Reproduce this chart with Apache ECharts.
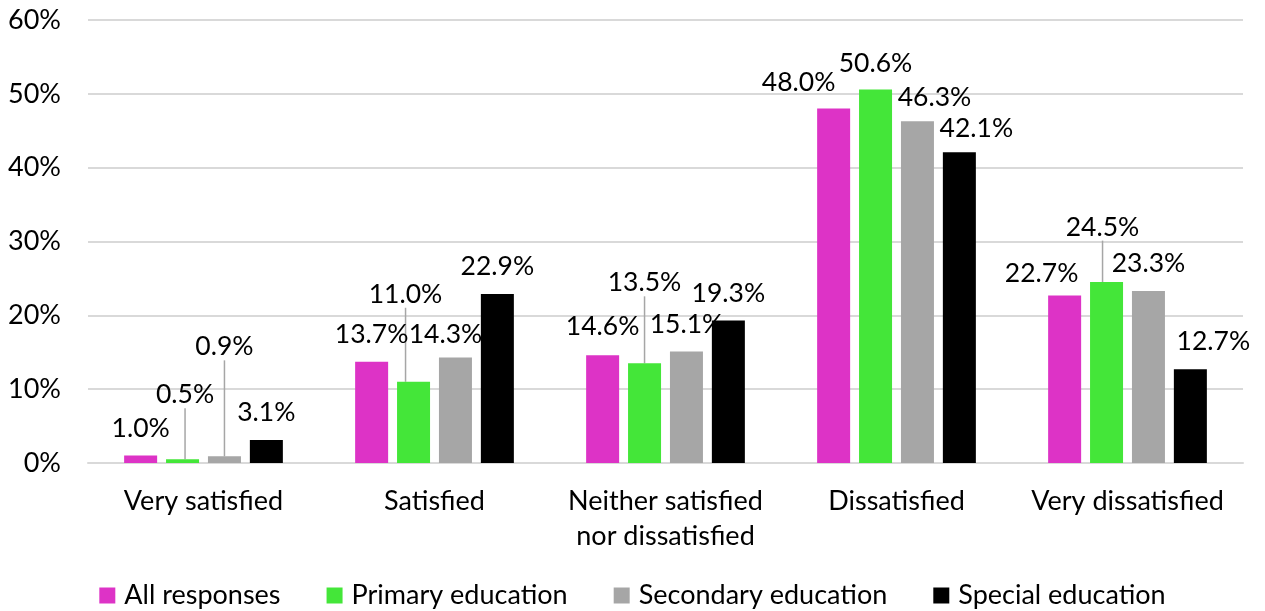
<!DOCTYPE html>
<html><head><meta charset="utf-8">
<script src="https://cdn.jsdelivr.net/npm/echarts@6/dist/echarts.min.js"></script>
<style>html,body{margin:0;padding:0;background:#fff}#c{width:1265px;height:611px}</style>
</head><body><div id="c"></div>
<script>
const categories = ['Very satisfied', 'Satisfied', 'Neither satisfied\nnor dissatisfied', 'Dissatisfied', 'Very dissatisfied'];
const seriesNames = ['All responses', 'Primary education', 'Secondary education', 'Special education'];
const allResponses = [1.0, 13.7, 14.6, 48.0, 22.7];
const primaryEducation = [0.5, 11.0, 13.5, 50.6, 24.5];
const secondaryEducation = [0.9, 14.3, 15.1, 46.3, 23.3];
const specialEducation = [3.1, 22.9, 19.3, 42.1, 12.7];
const yMin = 0, yMax = 60, yStep = 10;
const colors = ['#DD33C6', '#44E639', '#A6A6A6', '#000000'];
// manual label nudges per series/category: [dx, dy, showLeaderLine]
const labelNudges = [
  [[0, 0], [0, 0], [0, -1], [-35, 1], [-23, 6]],
  [[2.5, -37, 1], [-8, -60, 1], [0, -53, 1], [0, 2], [-4, -27.5, 1]],
  [[0, -82, 1], [-10, 5], [0, 0], [17, 3.5], [0, 0]],
  [[0, 0], [0, 0], [0, 0], [17, 4], [23, 0]]
];
const FONT = 'Lato';
const FS = 27;
const LFS = 26.5;
const values = [allResponses, primaryEducation, secondaryEducation, specialEducation];

const chart = echarts.init(document.getElementById('c'), null, {renderer: 'canvas'});
const series = values.map((arr, s) => ({
  name: seriesNames[s],
  type: 'bar',
  barWidth: 33,
  barGap: '27%',
  itemStyle: {color: colors[s]},
  data: arr.map((v, i) => ({
    value: v,
    labelLine: {show: !!labelNudges[s][i][2]}
  })),
  label: {
    show: true,
    position: 'top',
    distance: 14,
    fontFamily: FONT,
    fontSize: LFS,
    color: '#000',
    formatter: p => p.value.toFixed(1) + '%'
  },
  labelLine: {show: false, lineStyle: {color: '#A6A6A6', width: 1.5}},
  labelLayout: p => ({dx: labelNudges[s][p.dataIndex][0], dy: labelNudges[s][p.dataIndex][1]})
}));

chart.setOption({
  animation: false,
  color: colors,
  grid: {left: 88, right: 22, top: 20, bottom: 148, containLabel: false},
  legend: {
    top: 577,
    left: 'center',
    itemWidth: 16,
    itemHeight: 16,
    itemGap: 46,
    icon: 'rect',
    textStyle: {fontFamily: FONT, fontSize: FS, color: '#000', padding: [0, 0, 0, 4]},
    data: seriesNames
  },
  xAxis: {
    type: 'category',
    data: categories,
    axisLine: {lineStyle: {color: '#D9D9D9', width: 2}},
    axisTick: {show: false},
    axisLabel: {fontFamily: FONT, fontSize: FS, color: '#000', margin: 21, lineHeight: 35, interval: 0}
  },
  yAxis: {
    type: 'value',
    min: yMin, max: yMax, interval: yStep,
    axisLine: {show: false},
    axisTick: {show: false},
    axisLabel: {fontFamily: FONT, fontSize: FS, color: '#000', margin: 27, formatter: '{value}%'},
    splitLine: {lineStyle: {color: '#D9D9D9', width: 2}}
  },
  series
});
</script></body></html>
